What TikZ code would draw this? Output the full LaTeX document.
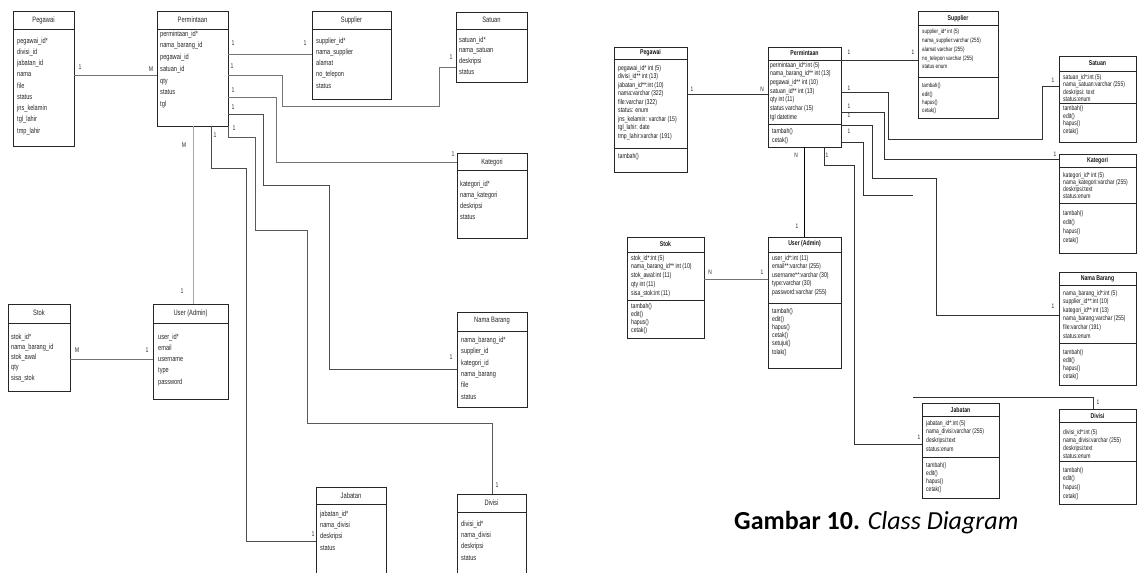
\documentclass[tikz,border=0pt]{standalone}
\usepackage{fontspec}
\newfontfamily\nar{Liberation Sans}[FakeStretch=0.74]
\newfontfamily\capfont{Carlito}

% a class box: name, left, top, right, bottom
\newcommand\umlbox[5]{%
  \node[frame, minimum width={#4-#2}, minimum height={#5-#3}] (#1) at (#2,#3) {};}
% a box that runs off the lower edge: only sides and top are drawn
\newcommand\openbox[5]{%
  \node[frame, draw=none, minimum width={#4-#2}, minimum height={#5-#3}] (#1) at (#2,#3) {};
  \draw[sepln] (#1.south west) -- (#1.north west) -- (#1.north east) -- (#1.south east);}
% horizontal rule across a box
\newcommand\hsep[2]{\draw[sepln] (#1.west |- 0,#2) -- (#1.east |- 0,#2);}

\begin{document}
\begin{tikzpicture}[x=1pt, y=-1pt,
  frame/.style={draw=black!85, line width=0.9pt, anchor=north west, inner sep=0pt, outer sep=0pt},
  sepln/.style={draw=black!85, line width=0.9pt},
  ltitle/.style={font=\fontsize{7.8}{9}\nar, text=black!85, inner sep=0pt},
  rtitle/.style={font=\fontsize{7}{8}\nar\bfseries, text=black!90, inner sep=0pt},
  lattr/.style={anchor=north west, inner sep=0pt, align=left, text=black!85,
                font=\fontsize{7.6}{#1}\nar, yshift=3.5pt},
  rattr/.style 2 args={anchor=north west, inner sep=0pt, align=left, text=black!90,
                font=\fontsize{#1}{#2}\nar, yshift={0.46*#1}},
  lconn/.style={draw=black!55, line width=0.9pt},
  rconn/.style={draw=black!80, line width=1pt},
  llbl/.style={font=\fontsize{7}{8}\nar, text=black!80, inner sep=0pt},
  rlbl/.style={font=\fontsize{6.5}{8}\nar, text=black!85, inner sep=0pt}
]
\fill[white] (0,0) rectangle (1137,572);

%% ---------------- entity diagram ----------------
\umlbox{lPeg}{13}{11}{74}{146}
\hsep{lPeg}{29}
\node[ltitle] (lPeg-t) at (lPeg.north |- 0,20) {Pegawai};
\node[lattr=11.25] (lPeg-a) at (17,41) {pegawai\_id*\\divisi\_id\\jabatan\_id\\nama\\file\\status\\jns\_kelamin\\tgl\_lahir\\tmp\_lahir};

\umlbox{lPerm}{157}{11}{228}{126}
\hsep{lPerm}{29}
\node[ltitle] (lPerm-t) at (lPerm.north |- 0,20) {Permintaan};
\node[lattr=11.7] (lPerm-a) at (160,34) {permintaan\_id*\\nama\_barang\_id\\pegawai\_id\\satuan\_id\\qty\\status\\tgl};

\umlbox{lSup}{312}{11}{391}{99}
\hsep{lSup}{29}
\node[ltitle] (lSup-t) at (lSup.north |- 0,20) {Supplier};
\node[lattr=11.25] (lSup-a) at (316,41) {supplier\_id*\\nama\_supplier\\alamat\\no\_telepon\\status};

\umlbox{lSat}{456}{12}{527}{82}
\hsep{lSat}{29}
\node[ltitle] (lSat-t) at (lSat.north |- 0,20) {Satuan};
\node[lattr=10.7] (lSat-a) at (459,40) {satuan\_id*\\nama\_satuan\\deskripsi\\status};

\umlbox{lKat}{457}{153}{527}{238}
\hsep{lKat}{170}
\node[ltitle] (lKat-t) at (lKat.north |- 0,162) {Kategori};
\node[lattr=11] (lKat-a) at (460,184) {kategori\_id*\\nama\_kategori\\deskripsi\\status};

\umlbox{lStok}{8}{304}{70}{391}
\hsep{lStok}{323}
\node[ltitle] (lStok-t) at (lStok.north |- 0,313) {Stok};
\node[lattr=10.25] (lStok-a) at (11,337) {stok\_id*\\nama\_barang\_id\\stok\_awal\\qty\\sisa\_stok};

\umlbox{lUser}{153}{304}{228}{399}
\hsep{lUser}{323}
\node[ltitle] (lUser-t) at (lUser.north |- 0,313) {User (Admin)};
\node[lattr=11.25] (lUser-a) at (158,337) {user\_id*\\email\\username\\type\\password};

\umlbox{lNB}{457}{312}{527}{407}
\hsep{lNB}{331}
\node[ltitle] (lNB-t) at (lNB.north |- 0,321) {Nama Barang};
\node[lattr=11.4] (lNB-a) at (461,340) {nama\_barang\_id*\\supplier\_id\\kategori\_id\\nama\_barang\\file\\status};

\openbox{lJab}{316}{487}{386}{573}
\hsep{lJab}{504}
\node[ltitle] (lJab-t) at (lJab.north |- 0,496) {Jabatan};
\node[lattr=11.3] (lJab-a) at (320,514) {jabatan\_id*\\nama\_divisi\\deskripsi\\status};

\openbox{lDiv}{457}{494}{526}{573}
\hsep{lDiv}{512}
\node[ltitle] (lDiv-t) at (lDiv.north |- 0,503) {Divisi};
\node[lattr=11.3] (lDiv-a) at (461,524) {divisi\_id*\\nama\_divisi\\deskripsi\\status};

% relations
\draw[lconn] (lPeg.east |- 0,75) -- (lPerm.west |- 0,75);
\draw[lconn] (lPerm.east |- 0,54) -- (lSup.west |- 0,54);
\draw[lconn] (lPerm.east |- 0,75) -- (282,75) -- (282,106) -- (439,106) -- (439,67) -- (lSat.west |- 0,67);
\draw[lconn] (lPerm.east |- 0,97) -- (276,97) -- (276,162) -- (lKat.west |- 0,162);
\draw[lconn, draw=black!70] (lPerm.east |- 0,114) -- (263,114) -- (263,185) -- (329,185) -- (329,369) -- (lNB.west |- 0,369);
\draw[lconn, draw=black!65] (lPerm.south east) -- (228,137) -- (255,137) -- (255,230) -- (307,230) -- (307,423) -- (492,423) -- (lDiv.north -| 492,0);
\draw[lconn, draw=black!35] (lPerm.south -| 193,0) -- (lUser.north -| 193,0);
\draw[lconn, draw=black!70] (lPerm.south -| 211,0) -- (211,168) -- (246,168) -- (246,541) -- (lJab.west |- 0,541);
\draw[lconn] (lStok.east |- 0,359) -- (lUser.west |- 0,359);

% multiplicities
\node[llbl] (la1) at (80,67) {1};
\node[llbl] (la2) at (151,69) {M};
\node[llbl] (lb1) at (233,43) {1};
\node[llbl] (lb2) at (305,43) {1};
\node[llbl] (lc1) at (232,66) {1};
\node[llbl] (lc2) at (451,57) {1};
\node[llbl] (ld1) at (233,90) {1};
\node[llbl] (ld2) at (453,154) {1};
\node[llbl] (le1) at (233,107) {1};
\node[llbl] (le2) at (451,357) {1};
\node[llbl] (lf1) at (234,128) {1};
\node[llbl] (lf2) at (497,485) {1};
\node[llbl] (lg1) at (184,145) {M};
\node[llbl] (lg2) at (182,291) {1};
\node[llbl] (lh1) at (215,135) {1};
\node[llbl] (lh2) at (313,534) {1};
\node[llbl] (li1) at (77,350) {M};
\node[llbl] (li2) at (147,350) {1};

%% ---------------- class diagram ----------------
\umlbox{rPeg}{614}{47}{687}{172}
\hsep{rPeg}{59}\hsep{rPeg}{148}
\node[rtitle] (rPeg-t) at (rPeg.north |- 0,53) {Pegawai};
\node[rattr={7}{8.5}] (rPeg-a) at (618,68) {pegawai\_id* int (5)\\divisi\_id** int (13)\\jabatan\_id**:int (10)\\nama:varchar (322)\\file:varchar (322)\\status: enum\\jns\_kelamin: varchar (15)\\tgl\_lahir: date\\tmp\_lahir:varchar (191)};
\node[rattr={7}{8.5}] (rPeg-m) at (618,156) {tambah()};

\umlbox{rPerm}{768}{47}{841}{147}
\hsep{rPerm}{60}\hsep{rPerm}{124}
\node[rtitle] (rPerm-t) at (rPerm.north |- 0,53) {Permintaan};
\node[rattr={7}{8.7}] (rPerm-a) at (770,65) {permintaan\_id*:int (5)\\nama\_barang\_id** int (13)\\pegawai\_id** int (10)\\satuan\_id** int (13)\\qty int (11)\\status varchar (15)\\tgl datetime};
\node[rattr={7}{9.5}] (rPerm-m) at (772,131) {tambah()\\cetak()};

\umlbox{rSup}{918}{11}{998}{118}
\hsep{rSup}{25}\hsep{rSup}{77}
\node[rtitle] (rSup-t) at (rSup.north |- 0,18.5) {Supplier};
\node[rattr={6.2}{8.75}] (rSup-a) at (922,32) {supplier\_id* int (5)\\nama\_supplier:varchar (255)\\alamat varchar (255)\\no\_telepon varchar (255)\\status enum};
\node[rattr={6.2}{8.3}] (rSup-m) at (922,86) {tambah()\\edit()\\hapus()\\cetak()};

\umlbox{rSat}{1059}{56}{1136}{142}
\hsep{rSat}{71}\hsep{rSat}{103}
\node[rtitle] (rSat-t) at (rSat.north |- 0,63.5) {Satuan};
\node[rattr={6.8}{7.5}] (rSat-a) at (1063,77) {satuan\_id*:int (5)\\nama\_satuan:varchar (255)\\deskripsi: text\\status:enum};
\node[rattr={6.8}{7.7}] (rSat-m) at (1063,108.5) {tambah()\\edit()\\hapus()\\cetak()};

\umlbox{rKat}{1059}{154}{1136}{253}
\hsep{rKat}{167}\hsep{rKat}{203}
\node[rtitle] (rKat-t) at (rKat.north |- 0,161) {Kategori};
\node[rattr={6.8}{7.3}] (rKat-a) at (1063,175) {kategori\_id* int (5)\\nama\_kategori:varchar (255)\\deskripsi:text\\status:enum};
\node[rattr={6.8}{9}] (rKat-m) at (1063,213) {tambah()\\edit()\\hapus()\\cetak()};

\umlbox{rNB}{1059}{272}{1136}{385}
\hsep{rNB}{285}\hsep{rNB}{343}
\node[rtitle] (rNB-t) at (rNB.north |- 0,278.5) {Nama Barang};
\node[rattr={6.8}{8.6}] (rNB-a) at (1063,293) {nama\_barang\_id*:int (5)\\supplier\_id**:int (10)\\kategori\_id** int (13)\\nama\_barang:varchar (255)\\file:varchar (191)\\status:enum};
\node[rattr={6.8}{8.3}] (rNB-m) at (1063,352) {tambah()\\edit()\\hapus()\\cetak()};

\umlbox{rStok}{627}{237}{704}{338}
\hsep{rStok}{252}\hsep{rStok}{300}
\node[rtitle] (rStok-t) at (rStok.north |- 0,244) {Stok};
\node[rattr={7}{8.75}] (rStok-a) at (631,258) {stok\_id*:int (5)\\nama\_barang\_id** int (10)\\stok\_awal:int (11)\\qty int (11)\\sisa\_stok:int (11)};
\node[rattr={7}{8.2}] (rStok-m) at (631,306) {tambah()\\edit()\\hapus()\\cetak()};

\umlbox{rUser}{768}{237}{841}{368}
\hsep{rUser}{252}\hsep{rUser}{303}
\node[rtitle] (rUser-t) at (rUser.north |- 0,244) {User (Admin)};
\node[rattr={7}{8.5}] (rUser-a) at (772,258) {user\_id*:int (11)\\email**:varchar (255)\\username**:varchar (30)\\type:varchar (30)\\password:varchar (255)};
\node[rattr={7}{8.2}] (rUser-m) at (772,311) {tambah()\\edit()\\hapus()\\cetak()\\setujui()\\tolak()};

\umlbox{rJab}{922}{403}{999}{498}
\hsep{rJab}{416}\hsep{rJab}{457}
\node[rtitle] (rJab-t) at (rJab.north |- 0,410) {Jabatan};
\node[rattr={6.8}{8.7}] (rJab-a) at (926,423) {jabatan\_id*:int (5)\\nama\_divisi:varchar (255)\\deskripsi:text\\status:enum};
\node[rattr={6.8}{8.3}] (rJab-m) at (926,465) {tambah()\\edit()\\hapus()\\cetak()};

\umlbox{rDiv}{1059}{409}{1136}{504}
\hsep{rDiv}{422}\hsep{rDiv}{461}
\node[rtitle] (rDiv-t) at (rDiv.north |- 0,416) {Divisi};
\node[rattr={6.8}{8.3}] (rDiv-a) at (1063,432) {divisi\_id*:int (5)\\nama\_divisi:varchar (255)\\deskripsi:text\\status:enum};
\node[rattr={6.8}{8.7}] (rDiv-m) at (1063,470) {tambah()\\edit()\\hapus()\\cetak()};

% associations
\coordinate (rEndA) at (913,195);
\coordinate (rEndB) at (913,397);
\draw[rconn] (rPeg.east |- 0,94) -- (rPerm.west |- 0,94);
\draw[rconn] (rPerm.east |- 0,60) -- (rSup.west |- 0,60);
\draw[rconn] (rPerm.east |- 0,92) -- (888,92) -- (888,139) -- (1042,139) -- (1042,86) -- (rSat.west |- 0,86);
\draw[rconn] (rPerm.east |- 0,112) -- (884,112) -- (884,159) -- (rKat.west |- 0,159);
\draw[rconn] (rPerm.east |- 0,125) -- (872,125) -- (872,178) -- (936,178) -- (936,315) -- (rNB.west |- 0,315);
\draw[rconn] (rPerm.east |- 0,142) -- (863,142) -- (863,195) -- (rEndA);
\draw[rconn, draw=black] (rPerm.south -| 804,0) -- (rUser.north -| 804,0);
\draw[rconn] (rPerm.south -| 824,0) -- (824,165) -- (854,165) -- (854,444) -- (rJab.west |- 0,444);
\draw[rconn] (rEndB) -- (1093,397) -- (rDiv.north -| 1093,0);
\draw[rconn, draw=black!55] (rStok.east |- 0,279) -- (rUser.west |- 0,279);

% multiplicities
\node[rlbl] (ra1) at (692,89) {1};
\node[rlbl] (ra2) at (762,89) {N};
\node[rlbl] (rb1) at (849,52) {1};
\node[rlbl] (rb2) at (913,52) {1};
\node[rlbl] (rc1) at (849,88) {1};
\node[rlbl] (rc2) at (1053,80) {1};
\node[rlbl] (rd1) at (849,106) {1};
\node[rlbl] (rd2) at (1055,154) {1};
\node[rlbl] (re1) at (849,115) {1};
\node[rlbl] (re2) at (1053,306) {1};
\node[rlbl] (rf1) at (849,131) {1};
\node[rlbl] (rg1) at (796,155) {N};
\node[rlbl] (rg2) at (797,226) {1};
\node[rlbl] (rh1) at (827,155) {1};
\node[rlbl] (rh2) at (919,437) {1};
\node[rlbl] (ri1) at (1098,402) {1};
\node[rlbl] (rj1) at (710,272) {N};
\node[rlbl] (rj2) at (762,272) {1};

% caption
\node[anchor=base west, inner sep=0pt, font=\capfont\fontsize{26}{30}\selectfont] (cap)
  at (734,529) {\textbf{Gambar 10.} \textit{Class Diagram}};
\end{tikzpicture}
\end{document}
